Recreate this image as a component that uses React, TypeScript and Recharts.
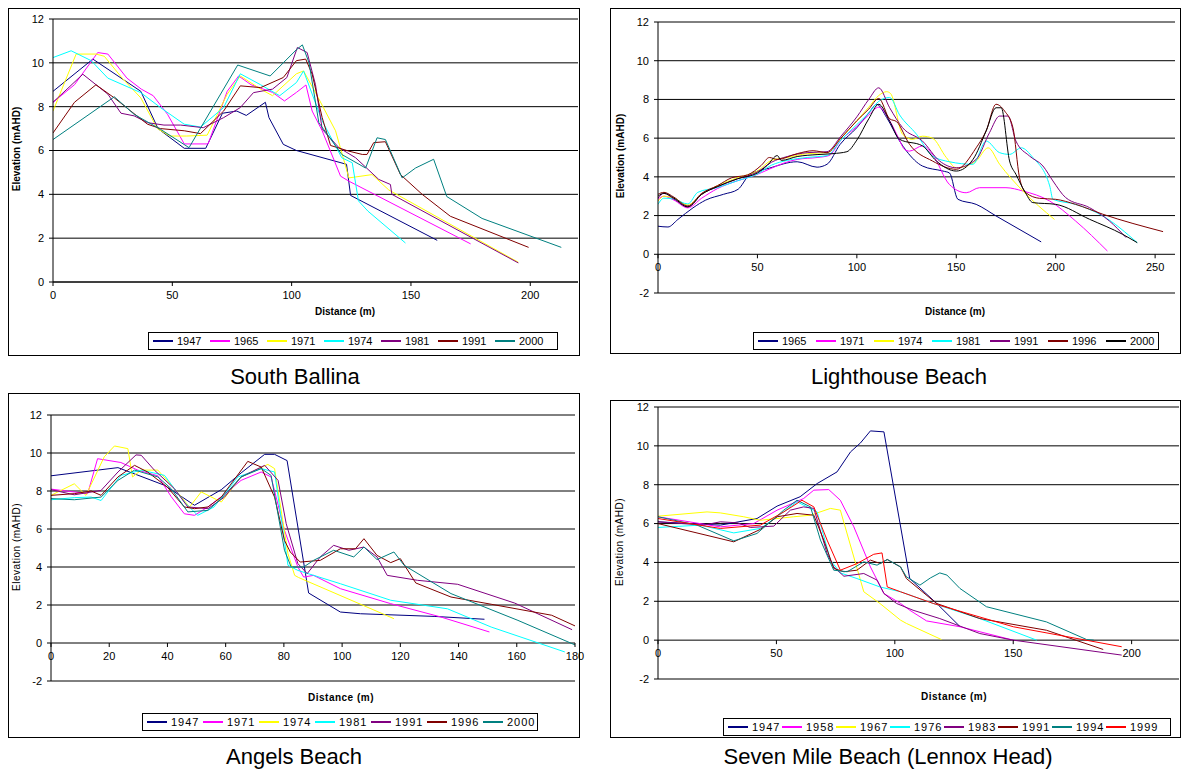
import React from "react";
import { LineChart, Line, XAxis, YAxis, CartesianGrid } from "recharts";

type Pt = [number, number];

// Excel default series colours
const NAVY = "#000080";
const MAGENTA = "#ff00ff";
const YELLOW = "#ffff00";
const CYAN = "#00ffff";
const PURPLE = "#800080";
const DARKRED = "#800000";
const TEAL = "#008080";
const RED = "#ff0000";
const BLACK = "#000000";

// ---- South Ballina ----
const sbYears = ["1947", "1965", "1971", "1974", "1981", "1991", "2000"];
const sbXTicks = [0, 50, 100, 150, 200];
const sbYTicks = [0, 2, 4, 6, 8, 10, 12];
const sb1947: Pt[] = [[0, 8.7], [16.7, 10.17], [36.8, 8.7], [44, 7.0], [55, 6.1], [64, 6.1], [71, 7.7], [77, 7.8], [81, 7.6], [89, 8.2], [90.5, 7.5], [96.5, 6.28], [102, 6.0], [123, 5.37], [124.7, 3.95], [161, 1.9]];
const sb1965: Pt[] = [[0, 8.2], [9, 9.0], [18.75, 10.47], [23, 10.4], [31, 9.3], [37, 8.8], [42, 8.5], [48, 7.65], [55, 6.3], [65, 6.3], [73, 8.7], [77.8, 9.4], [83, 9.0], [92, 8.65], [97, 8.26], [102, 8.65], [106, 8.99], [108.6, 7.8], [112.8, 6.9], [120.5, 4.83], [124, 4.6], [175, 1.74]];
const sb1971: Pt[] = [[0, 7.8], [9.7, 10.4], [18, 10.4], [21.5, 10.3], [29, 9.3], [36.8, 8.4], [43.75, 7.0], [49, 6.66], [56, 6.66], [64.6, 6.7], [73, 8.57], [78.5, 9.4], [87, 8.8], [92, 8.5], [102, 9.5], [105, 9.63], [110.7, 8.5], [118.4, 6.9], [124, 4.75], [133.7, 4.9], [140.7, 4.2], [195, 0.9]];
const sb1974: Pt[] = [[0, 10.24], [7.6, 10.55], [16, 10.1], [23, 9.3], [36.8, 8.64], [45, 7.96], [55, 7.2], [61.8, 7.07], [71.5, 7.96], [78.5, 9.5], [87, 9.0], [95, 8.5], [102, 9.1], [105, 9.63], [112.8, 7.35], [121, 5.67], [125.4, 5.44], [128, 3.7], [132, 3.23], [147.7, 1.78]];
const sb1981: Pt[] = [[0, 8.2], [12.5, 9.48], [23, 8.57], [28.5, 7.7], [34, 7.58], [39.6, 7.27], [46.5, 7.16], [53.5, 7.16], [63, 7.04], [71.5, 7.5], [78.5, 7.96], [84, 8.64], [92, 8.8], [98, 9.33], [102.4, 10.7], [106.5, 10.47], [110, 9.0], [112.8, 6.97], [119.8, 6.13], [126.8, 5.67], [136.5, 4.68], [141.4, 4.45], [142, 4.0], [195, 0.87]];
const sb1991: Pt[] = [[0, 6.8], [9, 8.2], [18, 9.0], [25.7, 8.4], [32.6, 7.8], [39.6, 7.2], [45, 7.0], [55, 6.9], [61.8, 6.77], [71.5, 7.8], [78.5, 8.95], [87, 8.87], [96.5, 9.33], [102, 10.1], [105.9, 10.17], [108.6, 9.48], [112.8, 7.5], [116.3, 6.23], [124, 5.97], [129.6, 5.82], [131.6, 5.82], [134.4, 6.36], [139.3, 6.4], [145.6, 4.9], [154.7, 4.0], [166.5, 3.0], [199.3, 1.58]];
const sb2000: Pt[] = [[0, 6.5], [25.7, 8.45], [34, 7.65], [45, 6.97], [57, 6.13], [77.4, 9.9], [91, 9.4], [102, 10.6], [104.5, 10.82], [107.3, 10.0], [111.4, 7.27], [121, 5.82], [131, 5.2], [135.8, 6.58], [139.3, 6.5], [146.3, 4.75], [151.9, 5.2], [159.5, 5.6], [165, 3.9], [179.8, 2.9], [213, 1.58]];

// ---- Lighthouse Beach ----
const lhYears = ["1965", "1971", "1974", "1981", "1991", "1996", "2000"];
const lhXTicks = [0, 50, 100, 150, 200, 250];
const elevTicks = [-2, 0, 2, 4, 6, 8, 10, 12];
const lh1965: Pt[] = [[0, 1.45], [5, 1.41], [10, 1.8], [17.6, 2.4], [24, 2.8], [33, 3.1], [40.3, 3.36], [46, 4.1], [56, 4.45], [70, 4.78], [80, 4.5], [85, 4.65], [91.6, 5.68], [100, 6.54], [106, 7.3], [110, 7.75], [115, 7.06], [121.5, 5.85], [125, 5.33], [133, 4.56], [143.3, 4.3], [146.6, 4.2], [150.8, 2.84], [160, 2.58], [170, 1.98], [192.7, 0.64]];
const lh1971: Pt[] = [[0, 2.85], [3, 3.0], [8, 2.8], [15, 2.4], [22, 2.9], [30, 3.4], [40, 3.8], [48, 4.05], [56, 4.4], [63, 4.7], [70, 4.9], [80, 5.0], [86, 5.1], [92, 5.9], [100, 6.6], [106, 7.2], [111, 7.6], [116.5, 6.9], [121, 6.0], [124, 5.42], [126.5, 5.33], [133, 5.6], [138, 5.16], [146.6, 3.6], [155, 3.18], [161.7, 3.44], [175, 3.44], [183.5, 3.27], [197, 2.75], [210, 1.72], [226, 0.17]];
const lh1974: Pt[] = [[0, 2.75], [3, 3.0], [8, 2.9], [15, 2.55], [22, 3.1], [30, 3.55], [40, 3.95], [50, 4.3], [57, 4.85], [65, 5.0], [75, 5.2], [85, 5.25], [92, 6.0], [100, 6.9], [106, 7.6], [111, 8.2], [115, 8.4], [117, 8.3], [123, 6.2], [128, 5.94], [133, 6.1], [138, 6.0], [145, 5.0], [150, 4.47], [160, 4.82], [166, 5.5], [171.8, 4.65], [183.5, 3.27], [199.4, 1.8]];
const lh1981: Pt[] = [[0, 2.58], [3, 2.9], [8, 2.85], [15, 2.6], [20, 3.2], [30, 3.45], [40, 3.8], [50, 4.15], [57, 4.6], [65, 4.85], [75, 5.0], [85, 5.1], [92, 5.9], [100, 6.7], [106, 7.3], [111, 7.9], [116.5, 8.1], [121.5, 7.2], [130, 6.2], [138, 5.08], [146.6, 4.78], [158.4, 4.65], [165, 5.85], [171.8, 5.25], [176.8, 5.16], [182.7, 5.5], [188.5, 5.0], [197, 3.53], [198.6, 2.84], [210, 2.58], [223.7, 1.98], [241, 0.6]];
const lh1991: Pt[] = [[0, 2.9], [3, 3.15], [8, 2.85], [15, 2.45], [22, 3.1], [30, 3.5], [40, 3.9], [50, 4.25], [57, 4.75], [65, 5.05], [75, 5.25], [85, 5.3], [92, 6.1], [100, 7.1], [106, 8.0], [111, 8.6], [116.5, 7.57], [123, 6.54], [133, 5.85], [141.6, 4.82], [150, 4.47], [160, 4.9], [166.7, 6.28], [171.8, 7.14], [176, 7.14], [180, 5.85], [186.8, 5.08], [193.6, 4.56], [198.6, 3.79], [205, 2.93], [217, 2.41], [227, 1.72], [235.4, 0.86]];
const lh1996: Pt[] = [[0, 3.1], [3, 3.2], [8, 2.95], [15, 2.5], [22, 3.15], [30, 3.55], [37, 3.95], [45, 4.1], [52, 4.6], [56, 5.0], [60, 4.9], [70, 5.2], [78, 5.35], [85, 5.25], [92, 6.0], [100, 6.9], [106, 7.5], [111, 8.05], [116.5, 7.0], [120, 6.85], [126.5, 5.68], [138, 4.82], [150, 4.39], [160, 5.5], [165, 6.37], [170, 7.75], [174.3, 7.4], [178.5, 6.54], [181.8, 3.96], [185, 3.18], [191.9, 2.89], [200, 2.84], [210, 2.58], [223.7, 2.07], [254, 1.17]];
const lh2000: Pt[] = [[0, 3.0], [3, 3.15], [8, 2.9], [15, 2.45], [22, 3.1], [30, 3.5], [40, 3.9], [50, 4.2], [55, 4.6], [60, 5.1], [62, 4.85], [70, 5.05], [80, 5.15], [88, 5.2], [95, 5.3], [100, 5.9], [106, 7.0], [111, 7.75], [116.5, 6.88], [121.5, 5.94], [133, 5.6], [140, 4.82], [150, 4.3], [158.4, 4.9], [165, 6.37], [170, 7.57], [172.6, 7.57], [176.8, 4.82], [180, 4.13], [184.3, 3.27], [188.5, 2.67], [200, 2.58], [217, 1.81], [233.7, 1.03], [241, 0.6]];

// ---- Angels Beach ----
const abYears = ["1947", "1971", "1974", "1981", "1991", "1996", "2000"];
const abXTicks = [0, 20, 40, 60, 80, 100, 120, 140, 160, 180];
const ab1947: Pt[] = [[0, 8.8], [23, 9.23], [39, 8.3], [49.3, 7.25], [58.5, 8.07], [65.3, 8.95], [73.4, 9.93], [76.8, 9.93], [81.1, 9.6], [88.5, 2.63], [99.4, 1.63], [106.3, 1.54], [131.6, 1.4], [148.9, 1.25]];
const ab1971: Pt[] = [[0, 8.1], [12.6, 7.86], [16, 9.7], [24, 9.5], [29.8, 9.1], [36.7, 8.8], [41.3, 7.7], [45.8, 6.8], [49.3, 6.72], [53.9, 7.16], [58.5, 7.7], [65.3, 8.56], [72.2, 9.0], [75.6, 8.74], [80.2, 5.93], [84.8, 4.0], [86.8, 3.47], [90.2, 3.56], [99.4, 2.86], [116.7, 2.07], [133.9, 1.37], [150.6, 0.58]];
const ab1974: Pt[] = [[0, 7.77], [8, 8.38], [12, 7.77], [18.3, 9.8], [21.8, 10.37], [26.4, 10.23], [28, 8.74], [31, 9.1], [36.7, 9.1], [42.4, 8.12], [47.6, 7.16], [51.6, 7.95], [58.5, 7.42], [65.3, 8.74], [74.5, 9.4], [76.8, 9.18], [81.4, 4.7], [83.7, 3.56], [85, 3.45], [117.8, 1.28]];
const ab1981: Pt[] = [[0, 7.54], [8, 7.65], [13.8, 7.68], [17.2, 7.5], [24, 8.82], [31, 9.1], [39, 8.82], [45.8, 7.42], [50.4, 6.72], [56, 7.16], [64.2, 8.74], [72.2, 9.18], [76.8, 9.0], [81.4, 4.09], [84.8, 3.82], [99.4, 3.12], [116.7, 2.25], [136.2, 1.8], [151.2, 0.84], [176.5, -0.47]];
const ab1991: Pt[] = [[0, 8.07], [8, 7.8], [17.2, 8.03], [23, 9.0], [29.2, 9.9], [31, 9.88], [35.5, 9.1], [42.4, 8.12], [47, 7.16], [53.9, 7.07], [59.6, 7.68], [65.3, 8.74], [73.4, 9.35], [78, 8.56], [80.8, 6.28], [84.8, 4.18], [88, 3.65], [92.5, 4.53], [97.1, 5.14], [102.3, 4.88], [107.5, 5.05], [112, 4.53], [115.5, 3.56], [125.9, 3.3], [139.7, 3.09], [159.3, 2.1], [179, 0.7]];
const ab1996: Pt[] = [[0, 7.77], [8, 7.86], [13.8, 8.0], [17.2, 7.77], [23, 8.74], [28.7, 9.35], [33.2, 9.0], [40, 8.2], [45.8, 7.16], [49.3, 7.07], [53.9, 7.16], [58.5, 7.68], [67.6, 9.56], [72.2, 9.26], [76.8, 7.68], [80.2, 5.4], [82.2, 4.79], [85.6, 4.26], [92.5, 4.35], [99.4, 4.96], [104.6, 4.96], [107.5, 5.49], [112, 4.61], [116.7, 4.23], [120, 4.44], [125.3, 3.16], [137.4, 2.42], [151.2, 2.04], [172, 1.46], [180, 0.9]];
const ab2000: Pt[] = [[0, 7.6], [8, 7.54], [17.2, 7.68], [23, 8.56], [28.7, 9.1], [36.7, 8.74], [41.3, 8.12], [47, 6.9], [53.9, 6.98], [58.5, 7.6], [65.3, 8.74], [72.2, 9.18], [75.6, 8.82], [80.2, 4.88], [82.5, 4.0], [86.8, 4.0], [90.2, 4.35], [97.1, 4.88], [104, 4.53], [107.5, 5.05], [112, 4.39], [117.8, 4.79], [121.3, 4.09], [137.4, 2.6], [160.4, 1.19], [180, -0.1]];

// ---- Seven Mile Beach (Lennox Head) ----
const smYears = ["1947", "1958", "1967", "1976", "1983", "1991", "1994", "1999"];
const smXTicks = [0, 50, 100, 150, 200];
const sm1947: Pt[] = [[0, 6.09], [26.3, 5.92], [41.8, 6.26], [50.3, 6.9], [60, 7.38], [67.2, 8.06], [75.6, 8.66], [81.3, 9.69], [85.5, 10.15], [89.7, 10.77], [95.4, 10.72], [106.3, 3.17], [117.6, 1.9], [127.5, 0.7]];
const sm1958: Pt[] = [[0, 6.35], [26.3, 5.83], [40.4, 6.0], [50.3, 6.69], [61.5, 7.29], [65.8, 7.72], [72.1, 7.75], [77, 7.2], [82.7, 5.83], [89.7, 3.77], [95.4, 2.4], [102.4, 1.89], [106.3, 1.54], [113.4, 0.99], [127.5, 0.69], [150, 0.0]];
const sm1967: Pt[] = [[0, 6.38], [20.7, 6.6], [26.3, 6.55], [36.2, 6.35], [43.2, 6.17], [57.3, 6.35], [64.4, 6.43], [72.8, 6.78], [77, 6.69], [86.9, 2.49], [93.7, 1.89], [102.4, 1.03], [104.9, 0.86], [119.7, 0.03]];
const sm1976: Pt[] = [[0, 5.8], [17.9, 5.92], [32, 5.52], [43.2, 5.75], [50.3, 6.35], [58.7, 7.12], [67.2, 6.6], [72.8, 4.12], [77, 3.46], [84, 3.17], [93.7, 2.74], [102.4, 2.49], [116.2, 1.89], [135.9, 1.11], [159.9, 0.0]];
const sm1983: Pt[] = [[0, 6.09], [19.3, 5.92], [26.3, 6.09], [33.4, 6.04], [39, 5.8], [48.9, 5.87], [55.9, 6.69], [61.5, 6.86], [65.8, 6.78], [71.4, 4.46], [74.2, 3.77], [78.5, 3.29], [86.9, 3.43], [92.5, 3.09], [95.4, 2.4], [100.7, 1.89], [107.7, 1.54], [119, 1.11], [135.9, 0.34], [150, 0.0], [195.8, -0.77]];
const sm1991: Pt[] = [[0, 6.0], [32, 5.06], [43.2, 5.7], [50.3, 6.35], [58.7, 6.52], [65.8, 6.43], [70, 5.15], [74.2, 3.69], [78.5, 3.52], [84, 3.6], [89.7, 4.12], [93.9, 3.94], [96.8, 4.15], [102.4, 3.77], [104.9, 3.17], [117.6, 1.89], [135.9, 1.11], [164, 0.51], [188, -0.48]];
const sm1994: Pt[] = [[0, 6.35], [16.5, 5.92], [32, 5.11], [41.8, 5.49], [53.1, 6.69], [58.7, 7.2], [64.4, 6.86], [68.6, 5.15], [74.2, 3.6], [79.9, 3.52], [86.9, 4.03], [92.5, 3.86], [96.8, 4.15], [102.4, 3.77], [104.9, 3.26], [110.6, 2.83], [115, 3.2], [119, 3.46], [122, 3.35], [127.5, 2.66], [138.7, 1.72], [164, 0.94], [181, 0.03], [184, 0.0]];
const sm1999: Pt[] = [[0, 6.26], [26.3, 5.75], [43.2, 5.92], [53.1, 6.6], [60.8, 7.2], [65.8, 6.86], [71.4, 5.15], [77, 3.6], [84, 3.94], [91.1, 4.42], [94.6, 4.49], [96.8, 2.74], [102.4, 2.49], [116.2, 1.89], [150, 0.69], [195.8, -0.34]];

const toRows = (pts: Pt[]) => pts.map(([x, y]) => ({ x, y }));

const FONT = '"Liberation Sans", Arial, sans-serif';

interface Series { name: string; color: string; data: Pt[] }
interface Panel {
  left: number; top: number; width: number; height: number;
  margin: { top: number; right: number; left: number; bottom: number };
  xDomain: [number, number]; xTicks: number[];
  yDomain: [number, number]; yTicks: number[];
  zeroAxis: boolean; smooth: boolean;
  series: Series[];
}

const mk = (years: string[], colors: string[], data: Pt[][]): Series[] =>
  years.map((name, i) => ({ name, color: colors[i], data: data[i] }));

const panels: Panel[] = [
  {
    left: 8, top: 8, width: 572, height: 350,
    margin: { top: 11, right: 2, left: 15, bottom: 56 },
    xDomain: [0, 220], xTicks: sbXTicks, yDomain: [0, 12], yTicks: sbYTicks,
    zeroAxis: false, smooth: false,
    series: mk(sbYears, [NAVY, MAGENTA, YELLOW, CYAN, PURPLE, DARKRED, TEAL], [sb1947, sb1965, sb1971, sb1974, sb1981, sb1991, sb2000]),
  },
  {
    left: 610, top: 8, width: 572, height: 352,
    margin: { top: 14, right: 7, left: 18, bottom: 47 },
    xDomain: [0, 260], xTicks: lhXTicks, yDomain: [-2, 12], yTicks: elevTicks,
    zeroAxis: true, smooth: true,
    series: mk(lhYears, [NAVY, MAGENTA, YELLOW, CYAN, PURPLE, DARKRED, BLACK], [lh1965, lh1971, lh1974, lh1981, lh1991, lh1996, lh2000]),
  },
  {
    // wider svg so the last tick label "180" is not clipped
    left: 8, top: 393, width: 592, height: 348,
    margin: { top: 22, right: 25, left: 13, bottom: 40 },
    xDomain: [0, 180], xTicks: abXTicks, yDomain: [-2, 12], yTicks: elevTicks,
    zeroAxis: true, smooth: false,
    series: mk(abYears, [NAVY, MAGENTA, YELLOW, CYAN, PURPLE, DARKRED, TEAL], [ab1947, ab1971, ab1974, ab1981, ab1991, ab1996, ab2000]),
  },
  {
    left: 610, top: 400, width: 572, height: 341,
    margin: { top: 7, right: 3, left: 18, bottom: 42 },
    xDomain: [0, 220], xTicks: smXTicks, yDomain: [-2, 12], yTicks: elevTicks,
    zeroAxis: true, smooth: false,
    series: mk(smYears, [NAVY, MAGENTA, YELLOW, CYAN, PURPLE, DARKRED, TEAL, RED], [sm1947, sm1958, sm1967, sm1976, sm1983, sm1991, sm1994, sm1999]),
  },
];

const frames = [
  { left: 8, top: 8, width: 572, height: 348 },
  { left: 610, top: 8, width: 571, height: 346 },
  { left: 8, top: 393, width: 572, height: 345 },
  { left: 610, top: 400, width: 571, height: 338 },
];

const legends = [
  { left: 148, top: 332, width: 410, entry: 57, spacing: 0 },
  { left: 753, top: 332, width: 406, entry: 58, spacing: 0 },
  { left: 142, top: 713, width: 396, entry: 56, spacing: 1 },
  { left: 723, top: 718, width: 448, entry: 54, spacing: 1 },
];

const yTitles = [
  { x: 16, y: 149, bold: true },
  { x: 620, y: 156, bold: true },
  { x: 16, y: 547, bold: false },
  { x: 619, y: 542, bold: false },
];

const xTitles = [
  { x: 345, y: 311 },
  { x: 955, y: 311 },
  { x: 341, y: 697 },
  { x: 954, y: 696 },
];

const captions = [
  { text: "South Ballina", x: 295, y: 377 },
  { text: "Lighthouse Beach", x: 899, y: 377 },
  { text: "Angels Beach", x: 294, y: 757 },
  { text: "Seven Mile Beach (Lennox Head)", x: 888, y: 757 },
];

const X_AXIS_H = 20;

function ChartPanel({ p }: { p: Panel }) {
  const plotH = p.height - p.margin.top - p.margin.bottom - X_AXIS_H;
  const shift = p.zeroAxis ? (plotH * (0 - p.yDomain[0])) / (p.yDomain[1] - p.yDomain[0]) : 0;

  // x axis crosses at elevation 0, so labels sit on the zero line
  const zeroTick = (props: any) => {
    const { x, y, payload } = props;
    const axisY = y - 9 - shift;
    return (
      <g>
        <line x1={x} x2={x} y1={axisY} y2={axisY + 4} stroke="#000" />
        <text x={x} y={y - shift} dy="0.71em" textAnchor="middle" fontSize={11} fill="#000" fontFamily={FONT}>
          {payload.value}
        </text>
      </g>
    );
  };

  return (
    <div style={{ position: "absolute", left: p.left, top: p.top }}>
      <LineChart width={p.width} height={p.height} margin={p.margin}>
        <CartesianGrid vertical={false} stroke="#000" strokeWidth={1} />
        <XAxis
          dataKey="x"
          type="number"
          domain={p.xDomain}
          ticks={p.xTicks}
          interval={0}
          height={X_AXIS_H}
          allowDataOverflow
          axisLine={p.zeroAxis ? false : { stroke: "#000" }}
          tickLine={p.zeroAxis ? false : { stroke: "#000" }}
          tickSize={4}
          tickMargin={5}
          tick={p.zeroAxis ? zeroTick : { fontSize: 11, fill: "#000", fontFamily: FONT }}
        />
        <YAxis
          type="number"
          domain={p.yDomain}
          ticks={p.yTicks}
          interval={0}
          width={30}
          allowDataOverflow
          axisLine={{ stroke: "#000" }}
          tickLine={{ stroke: "#000" }}
          tickSize={4}
          tickMargin={5}
          tick={{ fontSize: 11, fill: "#000", fontFamily: FONT }}
        />
        {p.series.map((s) => (
          <Line
            key={s.name}
            data={toRows(s.data)}
            dataKey="y"
            name={s.name}
            type={p.smooth ? "monotone" : "linear"}
            stroke={s.color}
            strokeWidth={1}
            dot={false}
            isAnimationActive={false}
          />
        ))}
      </LineChart>
    </div>
  );
}

function LegendBox({ series, pos }: { series: Series[]; pos: typeof legends[number] }) {
  return (
    <div
      style={{
        position: "absolute", left: pos.left, top: pos.top, width: pos.width, height: 18,
        border: "1px solid #000", background: "#fff", display: "flex", alignItems: "center",
        paddingLeft: 4, boxSizing: "border-box", fontSize: 11, fontFamily: FONT,
      }}
    >
      {series.map((s) => (
        <div key={s.name} style={{ width: pos.entry, display: "flex", alignItems: "center", flexShrink: 0 }}>
          <div style={{ width: 20, height: 2, background: s.color, marginRight: 4, flexShrink: 0 }} />
          <span style={{ letterSpacing: pos.spacing, lineHeight: "14px" }}>{s.name}</span>
        </div>
      ))}
    </div>
  );
}

export default function App() {
  return (
    <div style={{ position: "absolute", left: 0, top: 0, width: 1182, height: 772, background: "#fff", fontFamily: FONT, overflow: "hidden" }}>
      {frames.map((f, i) => (
        <div key={i} style={{ position: "absolute", left: f.left, top: f.top, width: f.width, height: f.height, border: "1px solid #000", boxSizing: "border-box" }} />
      ))}
      {panels.map((p, i) => (
        <ChartPanel key={i} p={p} />
      ))}
      {panels.map((p, i) => (
        <LegendBox key={i} series={p.series} pos={legends[i]} />
      ))}
      {yTitles.map((t, i) => (
        <div
          key={i}
          style={{
            position: "absolute", left: t.x, top: t.y, transform: "translate(-50%, -50%) rotate(-90deg)",
            fontSize: 10, fontWeight: t.bold ? "bold" : "normal", whiteSpace: "nowrap",
            letterSpacing: t.bold ? 0 : 0.5,
          }}
        >
          Elevation (mAHD)
        </div>
      ))}
      {xTitles.map((t, i) => (
        <div
          key={i}
          style={{
            position: "absolute", left: t.x, top: t.y, transform: "translate(-50%, -50%)",
            fontSize: 10, fontWeight: "bold", whiteSpace: "nowrap", letterSpacing: i >= 2 ? 0.5 : 0,
          }}
        >
          Distance (m)
        </div>
      ))}
      {captions.map((c, i) => (
        <div
          key={i}
          style={{
            position: "absolute", left: c.x - 250, top: c.y - 13, width: 500, textAlign: "center",
            fontSize: 22, lineHeight: "26px",
          }}
        >
          {c.text}
        </div>
      ))}
    </div>
  );
}
